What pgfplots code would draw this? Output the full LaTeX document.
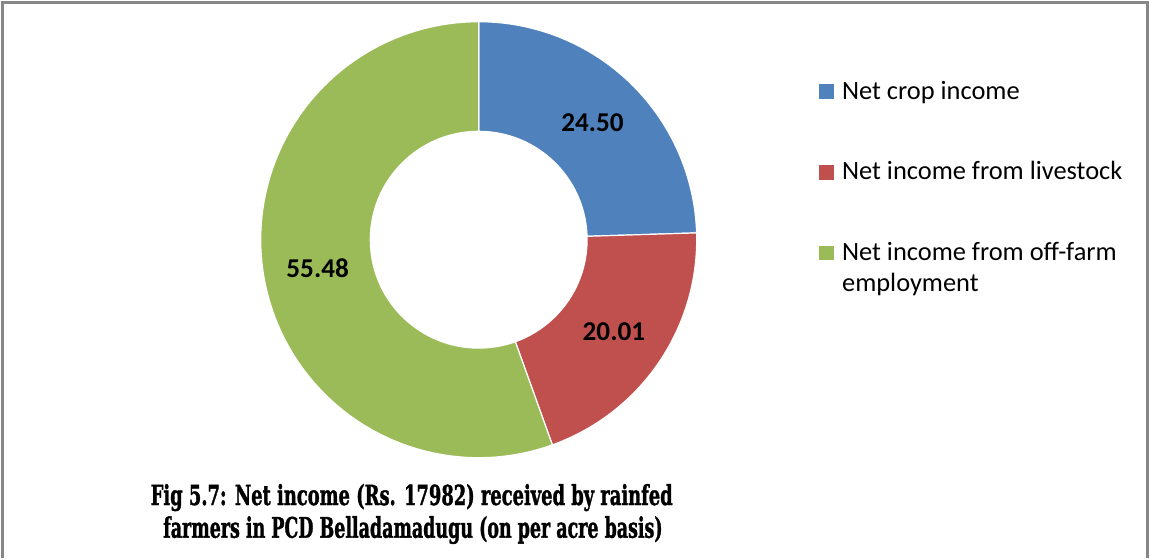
\documentclass[border=0pt]{standalone}
\usepackage{pgfplots}
\pgfplotsset{compat=1.18}
\usepackage{pgfplotstable}
\usepackage{graphicx}
\usepackage{fontspec}
\setmainfont{Carlito}
\newfontfamily\titlefont[BoldFeatures={FakeBold=1.5}]{DejaVu Serif Condensed}

\definecolor{cropblue}{HTML}{4F81BD}
\definecolor{livered}{HTML}{C0504D}
\definecolor{offgreen}{HTML}{9BBB59}
\definecolor{framegray}{HTML}{878787}

% shares of net income, per cent
\pgfplotstableread{
share
24.50
20.01
55.48
}\incometable

\newcommand\legfont{\fontsize{13.2}{15}\selectfont}
\newcommand\labfont{\fontsize{13.6}{15}\selectfont\bfseries}

\begin{document}
\begin{tikzpicture}
\pgfplotstablegetelem{0}{share}\of\incometable \edef\vA{\pgfplotsretval}
\pgfplotstablegetelem{1}{share}\of\incometable \edef\vB{\pgfplotsretval}
\pgfplotstablegetelem{2}{share}\of\incometable \edef\vC{\pgfplotsretval}
\pgfmathsetmacro\tot{\vA+\vB+\vC}
\pgfmathsetmacro\dg{360/\tot}
% clockwise from 12 o'clock
\pgfmathsetmacro\eA{90-\dg*\vA}
\pgfmathsetmacro\eB{\eA-\dg*\vB}
\pgfmathsetmacro\eC{\eB-\dg*\vC}
\pgfmathsetmacro\mA{(90+\eA)/2}
\pgfmathsetmacro\mB{(\eA+\eB)/2}
\pgfmathsetmacro\mC{(\eB+\eC)/2}
\def\cx{478.7}\def\cy{318.3}
\def\Rout{218}\def\Rin{109}\def\Rlab{163.5}

\begin{axis}[
    width=575pt, height=279pt, scale only axis,
    xmin=0, xmax=1150, ymin=0, ymax=558,
    hide axis, clip=false,
]
\path (axis cs:0,0) rectangle (axis cs:1150,558);
\draw[framegray, line width=1.2pt] (axis cs:2.5,0) -- (axis cs:2.5,555.5)
    -- (axis cs:1147.5,555.5) -- (axis cs:1147.5,0);

\addplot[fill=cropblue, draw=white, line width=0.6pt, domain=\eA:90, samples=80, variable=\t]
    ({\cx+\Rout*cos(\t)}, {\cy+\Rout*sin(\t)}) -- (axis cs:\cx,\cy) -- cycle;
\addplot[fill=livered, draw=white, line width=0.6pt, domain=\eB:\eA, samples=80, variable=\t]
    ({\cx+\Rout*cos(\t)}, {\cy+\Rout*sin(\t)}) -- (axis cs:\cx,\cy) -- cycle;
\addplot[fill=offgreen, draw=white, line width=0.6pt, domain=\eC:\eB, samples=120, variable=\t]
    ({\cx+\Rout*cos(\t)}, {\cy+\Rout*sin(\t)}) -- (axis cs:\cx,\cy) -- cycle;
\fill[white] (axis cs:\cx,\cy) circle[radius=\Rin];

\node[font=\labfont] at (axis cs:{\cx+\Rlab*cos(\mA)},{\cy+\Rlab*sin(\mA)}) {\vA};
\node[font=\labfont] at (axis cs:{\cx+\Rlab*cos(\mB)},{\cy+\Rlab*sin(\mB)}) {\vB};
\node[font=\labfont] at (axis cs:{\cx+\Rlab*cos(\mC)},{\cy+\Rlab*sin(\mC)}) {\vC};

% legend
\fill[cropblue] (axis cs:819,459) rectangle (axis cs:834,473.7);
\fill[livered]  (axis cs:819,378) rectangle (axis cs:834,392.7);
\fill[offgreen] (axis cs:819,298) rectangle (axis cs:834,312.3);
\node[anchor=base west, inner sep=0, font=\legfont] at (axis cs:841.7,459) {Net crop income};
\node[anchor=base west, inner sep=0, font=\legfont] at (axis cs:841.7,378.7) {Net income from livestock};
\node[anchor=base west, inner sep=0, font=\legfont] at (axis cs:841.7,298) {Net income from off-farm};
\node[anchor=base west, inner sep=0, font=\legfont] at (axis cs:841.7,267) {employment};

% caption
\node[anchor=base, inner sep=0] at (axis cs:411.7,53) {\titlefont\bfseries\resizebox{261pt}{10.5pt}{Fig 5.7: Net income (Rs. 17982) received by rainfed}};
\node[anchor=base, inner sep=0] at (axis cs:413,20.3) {\titlefont\bfseries\resizebox{249.7pt}{10.75pt}{farmers in PCD Belladamadugu (on per acre basis)}};
\end{axis}
\end{tikzpicture}
\end{document}
